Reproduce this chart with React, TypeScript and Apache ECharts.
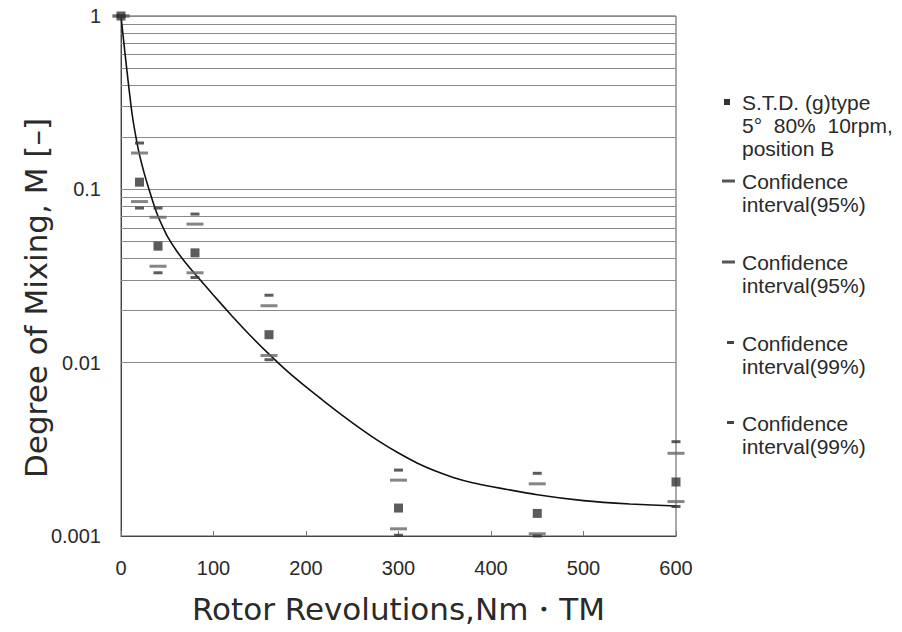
import React, { useEffect, useRef } from "react";
import * as echarts from "echarts";

// Sample positions (rotor revolutions) and measured degree of mixing
const sampleX = [0, 20, 40, 80, 160, 300, 450, 600];
const meanM = [1, 0.11, 0.047, 0.043, 0.0145, 0.00145, 0.00135, 0.00205];
const upper95 = [1, 0.162, 0.069, 0.063, 0.0213, 0.0021, 0.002, 0.003];
const lower95 = [1, 0.085, 0.036, 0.033, 0.011, 0.0011, 0.00103, 0.00158];
const upper99 = [1, 0.185, 0.078, 0.072, 0.0245, 0.0024, 0.0023, 0.0035];
const lower99 = [1, 0.078, 0.033, 0.031, 0.0104, 0.00101, 0.001, 0.00148];

// Fitted curve
const fitX = [0, 4, 8, 12, 16, 20, 25, 30, 35, 40, 45, 50, 60, 70, 80, 100, 120, 140, 160, 180, 200, 220, 240, 260, 280, 300, 320, 340, 360, 380, 400, 450, 500, 550, 600];
const fitM = [1, 0.631, 0.407, 0.272, 0.202, 0.158, 0.1245, 0.101, 0.0832, 0.07, 0.061, 0.0537, 0.0442, 0.0376, 0.0325, 0.0245, 0.0186, 0.0143, 0.0112, 0.0089, 0.00724, 0.00596, 0.00493, 0.00412, 0.00349, 0.00301, 0.00264, 0.00237, 0.00217, 0.00203, 0.00193, 0.00173, 0.0016, 0.00153, 0.00149];

// Horizontal grid lines of the log axis
const yGridValues = [
  0.002, 0.003, 0.004, 0.005, 0.006, 0.007, 0.008, 0.009,
  0.01, 0.02, 0.03, 0.04, 0.05, 0.06, 0.07, 0.08, 0.09,
  0.1, 0.2, 0.3, 0.4, 0.5, 0.6, 0.7, 0.8, 0.9, 1,
];

const xMin = 0;
const xMax = 600;
const xInterval = 100;
const yMin = 0.001;
const yMax = 1;

const legendMain = "S.T.D. (g)type\n5°  80%  10rpm,\nposition B";
const legendCI95 = "Confidence\ninterval(95%)";
const legendCI99 = "Confidence\ninterval(99%)";

const xTitle = "Rotor Revolutions,Nm・TM";
const yTitle = "Degree of Mixing, M [–]";

const TEXT = "#2a2a2a";
const SANS = "DejaVu Sans";
const TICKFONT = "Liberation Sans";

const pairs = (ys: number[]) => sampleX.map((x, i) => [x, ys[i]]);

export default function App() {
  const ref = useRef<HTMLDivElement>(null);

  useEffect(() => {
    if (!ref.current) return;
    const chart = echarts.init(ref.current, undefined, { renderer: "svg" });

    const legendText = (text: string, top: number) => ({
      type: "text",
      x: 742,
      y: top,
      style: {
        text,
        fontSize: 21,
        lineHeight: 23,
        fontFamily: TICKFONT,
        fill: TEXT,
        align: "left",
        verticalAlign: "top",
      },
    });

    const option: any = {
      animation: false,
      backgroundColor: "#ffffff",
      grid: {
        left: 121,
        right: 226,
        top: 16,
        bottom: 96,
        show: true,
        borderColor: "#555",
        borderWidth: 1,
        backgroundColor: "transparent",
      },
      xAxis: {
        type: "value",
        min: xMin,
        max: xMax,
        interval: xInterval,
        name: xTitle,
        nameLocation: "middle",
        nameGap: 57,
        nameTextStyle: { fontSize: 31, fontFamily: SANS, color: TEXT },
        axisLine: { show: true, lineStyle: { color: "#444", width: 1 } },
        axisTick: { show: true, inside: true, length: 5, lineStyle: { color: "#777" } },
        axisLabel: { fontSize: 20, fontFamily: TICKFONT, color: TEXT, margin: 22 },
        splitLine: { show: false },
      },
      yAxis: {
        type: "log",
        logBase: 10,
        min: yMin,
        max: yMax,
        axisLine: { show: true, lineStyle: { color: "#444", width: 1 } },
        axisTick: { show: false },
        axisLabel: {
          fontSize: 20,
          fontFamily: TICKFONT,
          color: TEXT,
          margin: 20,
          formatter: (v: number) => String(parseFloat(v.toPrecision(6))),
        },
        splitLine: { show: false },
      },
      graphic: [
        {
          type: "text",
          x: 36,
          y: 298,
          rotation: Math.PI / 2,
          style: {
            text: yTitle,
            fontSize: 31,
            fontFamily: SANS,
            fill: TEXT,
            align: "center",
            verticalAlign: "middle",
          },
        },
        { type: "rect", shape: { x: 724, y: 99, width: 6, height: 6 }, style: { fill: "#333" } },
        legendText(legendMain, 90.5),
        { type: "rect", shape: { x: 722, y: 179.5, width: 13, height: 3 }, style: { fill: "#555" } },
        legendText(legendCI95, 169.5),
        { type: "rect", shape: { x: 722, y: 260.5, width: 13, height: 3 }, style: { fill: "#555" } },
        legendText(legendCI95, 250.5),
        { type: "rect", shape: { x: 727, y: 341, width: 7, height: 3 }, style: { fill: "#444" } },
        legendText(legendCI99, 331.5),
        { type: "rect", shape: { x: 727, y: 421, width: 7, height: 3 }, style: { fill: "#444" } },
        legendText(legendCI99, 411.5),
      ],
      series: [
        {
          name: "fit",
          type: "line",
          data: fitX.map((x, i) => [x, fitM[i]]),
          smooth: 0.2,
          showSymbol: false,
          symbol: "none",
          lineStyle: { color: "#111", width: 1.6 },
          z: 3,
          markLine: {
            silent: true,
            symbol: ["none", "none"],
            label: { show: false },
            lineStyle: { color: "#8a8a8a", width: 1, type: "solid" },
            emphasis: { disabled: true },
            data: yGridValues.map((v) => ({ yAxis: v })),
            z: 1,
          },
        },
        {
          name: "Confidence interval(95%) upper",
          type: "scatter",
          data: pairs(upper95),
          symbol: "rect",
          symbolSize: [17, 3],
          itemStyle: { color: "#666" },
          clip: false,
          z: 4,
        },
        {
          name: "Confidence interval(95%) lower",
          type: "scatter",
          data: pairs(lower95),
          symbol: "rect",
          symbolSize: [17, 3],
          itemStyle: { color: "#666" },
          clip: false,
          z: 4,
        },
        {
          name: "Confidence interval(99%) upper",
          type: "scatter",
          data: pairs(upper99),
          symbol: "rect",
          symbolSize: [9, 3],
          itemStyle: { color: "#333" },
          clip: false,
          z: 4,
        },
        {
          name: "Confidence interval(99%) lower",
          type: "scatter",
          data: pairs(lower99),
          symbol: "rect",
          symbolSize: [9, 3],
          itemStyle: { color: "#333" },
          clip: false,
          z: 4,
        },
        {
          name: "S.T.D. (g)type",
          type: "scatter",
          data: pairs(meanM),
          symbol: "rect",
          symbolSize: [9, 9],
          itemStyle: { color: "#333" },
          clip: false,
          z: 5,
        },
      ],
    };

    chart.setOption(option);
    return () => chart.dispose();
  }, []);

  return (
    <div
      ref={ref}
      style={{ position: "fixed", left: 0, top: 0, width: 902, height: 632, background: "#fff" }}
    />
  );
}
